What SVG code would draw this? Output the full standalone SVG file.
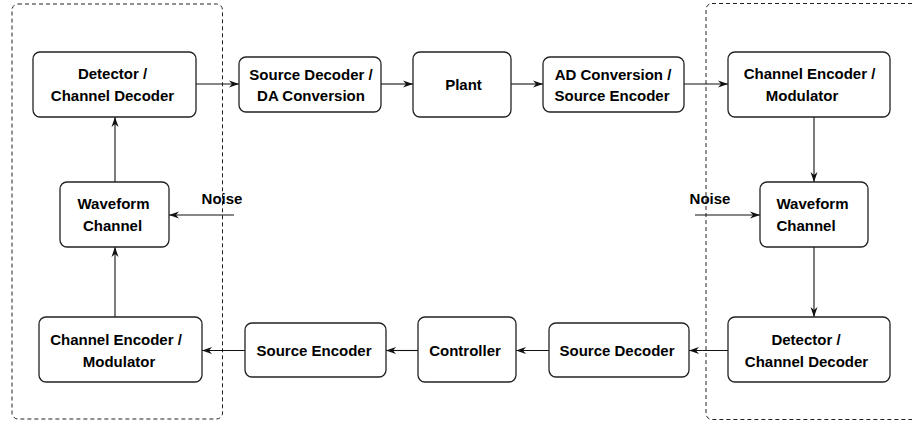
<svg xmlns="http://www.w3.org/2000/svg" width="912" height="423" viewBox="0 0 912 423">
  <defs>
    <style>
      .frame { fill: none; stroke: #222; stroke-width: 1; stroke-dasharray: 4 3; }
      .box { fill: #fff; stroke: #222; stroke-width: 1.3; }
      .lbl { font-family: "Liberation Sans", Arial, Helvetica, sans-serif; font-weight: bold; font-size: 15px; fill: #000; text-anchor: middle; }
      .wire { fill: none; stroke: #111; stroke-width: 1.1; }
    </style>
    <marker id="arrow" markerUnits="userSpaceOnUse" markerWidth="12" markerHeight="8" viewBox="-11 -4 12 8" refX="0" refY="0" orient="auto">
      <path d="M0,0 L-10,-3.5 L-7,0 L-10,3.5 Z" fill="#111"/>
    </marker>
  </defs>
  <rect width="912" height="423" fill="#fff"/>

  <!-- subsystem frames -->
  <g id="frames">
    <rect class="frame" x="12" y="4" width="210.5" height="415" rx="6"/>
    <rect class="frame" x="706" y="3.5" width="230" height="416" rx="6"/>
  </g>

  <!-- connectors -->
  <g id="connectors">
    <line class="wire" x1="196" y1="84" x2="239" y2="84" marker-end="url(#arrow)"/>
    <line class="wire" x1="381" y1="84" x2="413" y2="84" marker-end="url(#arrow)"/>
    <line class="wire" x1="511" y1="84" x2="543" y2="84" marker-end="url(#arrow)"/>
    <line class="wire" x1="684" y1="84" x2="728" y2="84" marker-end="url(#arrow)"/>
    <line class="wire" x1="814" y1="117" x2="814" y2="182" marker-end="url(#arrow)"/>
    <line class="wire" x1="695" y1="215" x2="760" y2="215" marker-end="url(#arrow)"/>
    <line class="wire" x1="814" y1="247" x2="814" y2="317" marker-end="url(#arrow)"/>
    <line class="wire" x1="728" y1="350.5" x2="689" y2="350.5" marker-end="url(#arrow)"/>
    <line class="wire" x1="549" y1="350.5" x2="516" y2="350.5" marker-end="url(#arrow)"/>
    <line class="wire" x1="418" y1="350.5" x2="386" y2="350.5" marker-end="url(#arrow)"/>
    <line class="wire" x1="245" y1="350.5" x2="202" y2="350.5" marker-end="url(#arrow)"/>
    <line class="wire" x1="115" y1="317" x2="115" y2="247" marker-end="url(#arrow)"/>
    <line class="wire" x1="234" y1="215" x2="169" y2="215" marker-end="url(#arrow)"/>
    <line class="wire" x1="115" y1="182" x2="115" y2="117" marker-end="url(#arrow)"/>
  </g>

  <!-- noise labels -->
  <g id="noise-left">
    <text class="lbl" x="222" y="204">Noise</text>
  </g>
  <g id="noise-right">
    <text class="lbl" x="710" y="204">Noise</text>
  </g>

  <!-- receiver side (left) -->
  <g id="detector-left">
    <rect class="box" x="33" y="52" width="163" height="65" rx="7"/>
    <text class="lbl" x="112.5" y="79">Detector /</text>
    <text class="lbl" x="112.5" y="100.5">Channel Decoder</text>
  </g>
  <g id="waveform-left">
    <rect class="box" x="60" y="182" width="109" height="65" rx="7"/>
    <text class="lbl" x="113.5" y="208.5">Waveform</text>
    <text class="lbl" x="112.5" y="230.5">Channel</text>
  </g>
  <g id="chanenc-left">
    <rect class="box" x="39" y="317" width="163" height="65" rx="7"/>
    <text class="lbl" x="116" y="345">Channel Encoder /</text>
    <text class="lbl" x="119" y="366.5">Modulator</text>
  </g>

  <!-- forward path -->
  <g id="srcdec-da">
    <rect class="box" x="239" y="57" width="142" height="55" rx="7"/>
    <text class="lbl" x="311" y="79.5">Source Decoder /</text>
    <text class="lbl" x="311" y="101">DA Conversion</text>
  </g>
  <g id="plant">
    <rect class="box" x="413" y="52" width="98" height="65" rx="7"/>
    <text class="lbl" x="463.5" y="90">Plant</text>
  </g>
  <g id="ad-srcenc">
    <rect class="box" x="543" y="57" width="141" height="55" rx="7"/>
    <text class="lbl" x="613" y="79.5">AD Conversion /</text>
    <text class="lbl" x="612" y="101">Source Encoder</text>
  </g>

  <!-- sensor side (right) -->
  <g id="chanenc-right">
    <rect class="box" x="728" y="52" width="162" height="65" rx="7"/>
    <text class="lbl" x="809.5" y="79">Channel Encoder /</text>
    <text class="lbl" x="802" y="100.5">Modulator</text>
  </g>
  <g id="waveform-right">
    <rect class="box" x="760" y="182" width="108" height="65" rx="7"/>
    <text class="lbl" x="812.5" y="208.5">Waveform</text>
    <text class="lbl" x="806" y="230.5">Channel</text>
  </g>
  <g id="detector-right">
    <rect class="box" x="728" y="317" width="162" height="65" rx="7"/>
    <text class="lbl" x="806" y="345">Detector /</text>
    <text class="lbl" x="806.5" y="366.5">Channel Decoder</text>
  </g>

  <!-- return path -->
  <g id="srcdec">
    <rect class="box" x="549" y="323" width="140" height="54" rx="7"/>
    <text class="lbl" x="617" y="356">Source Decoder</text>
  </g>
  <g id="controller">
    <rect class="box" x="418" y="317" width="98" height="65" rx="7"/>
    <text class="lbl" x="465" y="356">Controller</text>
  </g>
  <g id="srcenc">
    <rect class="box" x="245" y="323" width="141" height="54" rx="7"/>
    <text class="lbl" x="314" y="356">Source Encoder</text>
  </g>
</svg>
